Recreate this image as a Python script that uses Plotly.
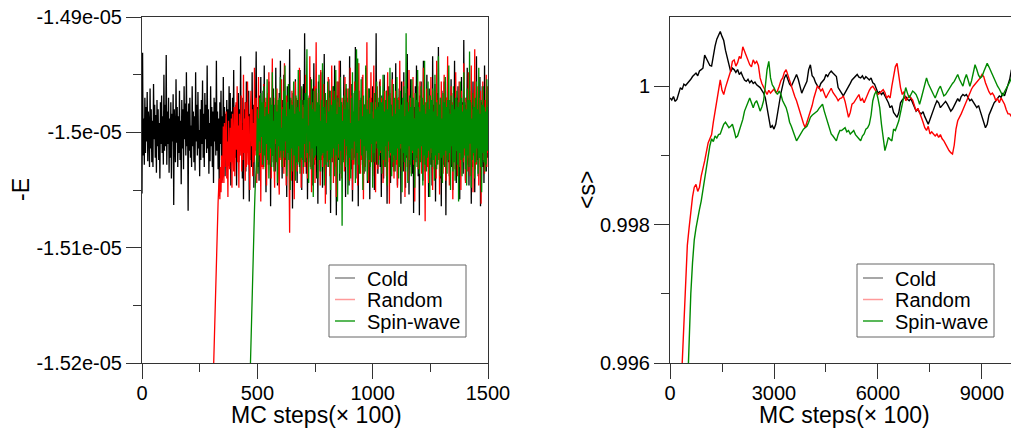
import plotly.graph_objects as go

# ---------------- Left panel: -E vs MC steps (x100) ----------------
# energies stored as offsets from -1.5e-05 in units of 1e-09
E_REF = -1.5e-05
E_UNIT = 1e-09

cold_start, cold_step = 0, 2.5
cold_dev = [
    -53, 69, -20, 12, -28, 30, -18, 22, -8, 35, -25, 18, 5, -30, 38, -14, 20, -26, 10, -30, 42, -6, 24, -22, 15, -35, 28, -12, 20, -24, 8, -40, 26, -10, 32, -18, 14, -28, 50, -16,
    24, -12, 67, -28, 18, -10, 30, -35, 12, -22, 26, -40, 16, -8, 33, -63, 20, 4, -26, 46, -9, 22, -30, 14, -18, 36, -24, 10, -45, 28, -14, 20, -32, 40, -6, 25, -20, 52, -12, 18,
    -68, 25, -16, 30, -22, 6, -30, 40, -12, 18, -26, 14, -33, 52, -8, 24, -20, 35, -14, 2, -38, 20, -24, 28, -10, 45, -22, 16, -30, 34, -6, 24, -18, 58, -14, 20, -36, 8, -25, 40,
    -12, 22, -30, 18, -44, 30, -8, 26, -20, 62, -16, 18, -32, 12, -55, 26, -10, 36, -24, 14, -28, 48, -18, 22, -38, 16, -6, 28, -30, 20, -24, 40, -12, 34, -46, 18, -20, 30, -14, 54,
    -30, 12, -22, 24, -46, 18, -8, 34, -26, 20, -12, 66, -20, 8, -40, 30, -58, 20, -14, 26, -34, 44, -10, 28, -18, 36, -60, 16, -24, 4, -30, 52, -22, 24, -48, 10, -16, 26, 70, -14,
    22, -30, 16, -42, 32, -20, 48, -24, 12, -18, 36, -30, 58, -16, 26, -52, 20, -22, 28, -28, 44, -10, 30, -64, 18, -26, 24, -20, 38, -30, 6, -34, 56, -12, 24, -46, 14, -28, 34, -20,
    62, -8, 18, -40, 28, -22, 50, -30, 10, -24, 22, -56, 40, -14, 30, -24, 72, -20, 16, -38, 26, -66, 34, -16, 12, -22, 46, -26, 20, -44, 28, -16, 36, -30, 54, -18, 24, -50, 28, -12,
    42, -26, 86, -18, 24, -36, 28, -58, 14, -22, 32, -20, 48, -28, 26, -46, 38, -18, 60, -28, 12, -24, 30, -40, 20, -62, 44, -16, 24, -34, 52, -16, 28, -48, 34, -22, 68, -12, 20, -54,
    28, -20, 36, -30, 46, -14, 36, -70, 22, -18, 26, -26, 40, -22, 58, -18, 24, -72, 32, -20, 44, -24, 18, -42, 62, -16, 26, -34, 16, -24, 50, -20, 28, -56, 38, -14, 30, -28, 20, -46,
    66, -12, 24, -32, 42, -60, 14, -22, 34, -22, 74, -18, 18, -40, 28, -64, 36, -16, 22, -28, 30, -20, 48, -26, 16, -36, 24, -30, 56, -14, 28, -44, 20, -24, 38, -58, 26, -18, 30, -22,
    40, -26, 20, -50, 34, -16, 86, -28, 22, -36, 26, -20, 44, -30, 18, -56, 32, -18, 24, -40, 50, -22, 28, -30, 36, -62, 20, -16, 40, -26, 30, -44, 24, -20, 52, -30, 18, -34, 28, -22,
    60, -18, 22, -46, 30, -24, 38, -28, 20, -62, 44, -16, 26, -34, 52, -20, 14, -48, 34, -22, 68, -18, 26, -54, 28, -24, 46, -30, 20, -36, 30, -70, 22, -18, 40, -26, 58, -22, 24, -38,
    26, -72, 32, -20, 44, -24, 28, -42, 62, -18, 26, -34, 20, -24, 50, -22, 16, -56, 38, -18, 30, -28, 20, -46, 66, -16, 24, -32, 42, -60, 22, -24, 34, -22, 74, -14, 24, -40, 28, -64,
    36, -20, 22, -28, 44, -30, 18, -72, 30, -22, 54, -26, 20, -38, 28, -16, 46, -30, 24, -50, 34, -18, 62, -24, 22, -44, 30, -20, 40, -34, 18, -58, 28, -24, 48, -20, 26, -36, 80, -18,
    24, -42, 30, -22, 56, -28, 20, -46, 36, -18, 28, -62, 24, -30, 44, -20, 34, -52, 22, -26, 66, -24, 18, -38, 30, -22, 48, -64, 26, -20, 40, -30, 20, -44, 58, -16, 28, -34, 24, -22,
    10,
]

random_start, random_step = 300, 2.5
random_dev = [
    -280, -262, -240, -218, -195, -170, -150, -132, -118, -100, -85, -70, -60, -48, -40, -58, -30, -52, -20, -44, -35, 5, -44, 8, -30, -12, 18, -40, -8, -56, 10, -22, -32, 4, -26, 12, -48, 16, -10, -34,
    22, -38, -4, 26, -15, 40, -26, 6, -48, 16, -20, -10, 32, -34, 2, -24, 50, -18, 12, -42, 26, -30, -6, 44, -28, 14, -22, -50, 18, 36, -12, 20, -38, 8, -26, 56, -20, 10, 30, -44,
    12, -26, 48, -20, -8, 18, -60, 24, -30, 4, -32, 42, -14, 26, -22, 30, -46, 10, 34, -22, 52, -28, -6, 18, -40, 20, 64, -16, 8, -24, -48, 30, -10, 22, 38, -28, 14, -36, -54, 28,
    4, -24, 46, -30, -12, 22, -36, 60, -8, 16, -46, 32, -18, 26, 20, -30, -87, 12, 28, -42, 36, -14, 26, -20, -58, 10, 44, -20, 30, -34, 16, -26, -6, 56, -26, 20, -48, 38, -10, 24,
    -36, 22, 8, -30, 50, -22, 14, -40, 30, -26, -12, 66, -30, 18, -52, 26, 6, -28, -18, 40, -44, 24, 78, -8, 22, -28, 34, -16, 10, -46, 54, -24, 20, -30, -6, 42, -34, 16, -62, 28,
    6, -26, -20, 48, -12, 30, -38, 14, -26, 58, -10, 22, -44, 36, 4, -30, 18, -56, 44, -14, 26, -22, 62, -28, -8, 14, -40, 30, -18, 24, 10, -34, 48, -26, -6, 24, -20, 38, -16, 12,
    -42, 56, -24, 8, 32, -50, 18, -28, -10, 44, -28, 22, -12, 36, -46, 14, 60, -20, 6, -36, 28, -24, -8, 50, -58, 16, 24, -30, 40, -14, 78, -22, 12, -44, 30, -26, -6, 52, -26, 18,
    -38, 8, 58, -16, 26, -52, 34, -10, 40, -32, 20, -24, -4, 46, -18, 30, -28, 12, -44, 30, -6, 36, -26, 18, -38, 8, 52, -16, 26, -62, 34, -20, 10, -30, 46, -22, 16, -40, 28, -12,
    36, -28, 22, -48, 14, 30, -20, 62, -14, 24, -34, 10, -26, 44, -18, 28, -56, 20, -10, 38, -30, 16, -42, 54, -24, 8, 30, -36, 22, -18, 48, -28, 12, -60, 34, -14, 26, -22, 40, -32,
    20, -26, 44, -12, 30, -36, 18, -20, 56, -28, 14, -77, 26, -16, 38, -30, 22, -44, 10, 32, -22, 48, -18, 24, -50, 16, -8, 36, -28, 20, -40, 62, -14, 28, -24, 12, -54, 30, -20, 44,
    -16, 22, -36, 14, 50, -26, 8, -42, 30, -20, 66, -18, 24, -46, 16, -28, 40, -10, 26, -58, 34, -22, 18, -32, 52, -16, 28, -38, 12, -24, 44, -30, 20, -50, 36, -12, 24, -26, 60, -20,
    14, -44, 30, -18, 26, -34, 52, -22, 18, -38, 8, 58, -26, 20, -52, 34, -14, 72, -32, 20, -28, 40, -12, 24, -46, 30, -18, 36, -62, 22, -10, 44, -24, 16, -36, 28, -20, 50, -30, 40,
    -18,
]

spin_start, spin_step = 465, 2.5
spin_dev = [
    -240, -218, -195, -175, -155, -136, -118, -100, -85, -68, -52, -40, -30, -18,
    20, -36, 12, -8, 30, -18, 34, -4, 26, -28, 8, 40, -20, 14, -32, 22, -10, 46, -24, 16, -40, 6, 30, -14, 24, -30, 52, -20, 10, -34, 24, -6, 38, -26, 18, -44, 28, -12, 30, -22,
    48, -16, 4, -30, 20, -16, 36, -22, 58, -8, 14, -38, 26, -18, 42, -24, 20, -50, 30, -14, 24, -34, 10, 44, -20, 16, -42, 32, -26, 22, -28, 54, -12, 18, -36, 28, -22, 40, -24, 12,
    -30, 28, -10, 34, -26, 14, 72, -18, 6, -44, 30, -8, 24, -32, 46, -14, 20, -56, 36, -22, 18, -20, 38, -12, 26, -40, 16, 50, -24, 10, -34, 28, -20, 60, -18, 22, -46, 14, 34, -28,
    8, -16, 44, -30, 18, -24, 36, -50, 24, 4, -22, 40, -14, 28, -38, 12, 54, -20, 16, -60, 30, -10, 22, -36, 48, -16, 26, -81, 10, -26, 32, -6, 20, -30, 42, -12, 26, -54, 14, 38,
    -22, 8, -40, 30, -14, 52, -24, 18, -8, 36, -44, 24, 72, -18, 64, -28, 10, -36, 28, -6, 46, -20, 14, -50, 32, -12, 24, -34, 58, -16, 20, -42, 8, 38, -24, 16, -30, 26, -10, 26,
    -48, 12, -18, 34, -26, 20, -8, 44, -14, 22, -28, 30, -20, 40, -16, 26, -36, 12, 50, -24, 18, -30, 28, -12, 36, -46, 20, -8, 32, -22, 56, -18, 24, -38, 14, -26, 42, -20, 30, -34,
    16, -24, 48, -14, 28, -40, 20, -30, 36, -10, 24, -52, 30, -18, 40, -26, 14, -34, 86, -20, 26, -44, 18, -12, 32, -28, 22, -38, 46, -16, 30, -24, 12, -48, 34, -20, 28, -30, 54, -14,
    22, -36, 18, -26, 40, -12, 30, -46, 24, -20, 62, -28, 16, -34, 26, -22, 44, -16, 20, -56, 32, -14, 28, -30, 38, -24, 18, -42, 50, -20, 26, -32, 14, -28, 66, -18, 24, -38, 30, -22,
    12, -44, 34, -20, 26, -30, 48, -16, 22, -36, 28, -24, 58, -18, 16, -50, 32, -12, 24, -34, 40, -26, 20, -42, 30, -16, 36, -28, 22, -60, 26, -18, 44, -24, 30, -38, 18, -22, 52, -14,
    26, -32, 20, -46, 38, -20, 28, -30, 70, -10, 26, -48, 12, -24, 34, -18, 22, -40, 30, -26, 44, -14, 20, -36, 56, -22, 16, -30, 28, -52, 24, -18, 40, -26, 22, -34, 18, -28, 46, -16,
    22,
]

# ---------------- Right panel: <s> vs MC steps (x100) ----------------
# magnetisation stored as offsets from 1 in units of 1e-05
S_REF = 1.0
S_UNIT = 1e-05

cold_s_start, cold_s_step = 0, 50
cold_s_dev = [
    -17, -20, -15, -22, -19, -12, -2, -5, 3, 1,
    4, 6, 10, 14, 17, 19, 15, 22, 24, 26,
    45, 40, 36, 30, 29, 45, 58, 68, 74, 79,
    72, 66, 52, 40, 30, 21, 26, 24, 20, 24,
    17, 20, 14, 9, 7, 10, 5, 8, 4, 6,
    2, 0, -2, -6, -10, -17, -30, -48, -60, -57,
    -62, -55, -36, -25, -10, 2, 12, 17, 8, 3,
    0, 6, 12, 17, 10, -2, -10, -4, 2, 7,
    24, 31, 15, 12, 5, 0, -3, 4, 7, 10,
    17, 14, 19, 22, 19, 17, 14, -2, -7, -10,
    -14, -10, -6, -2, 4, 9, 12, 15, 17, 13,
    12, 15, 10, 14, 12, 9, 12, 5, 3, -4,
    -10, -8, -12, -9, -14, -18, -24, -31, -28, -38,
    -42, -45, -38, -24, -20, -17, -15, -19, -21, -18,
    -24, -30, -36, -33, -38, -40, -37, -44, -50, -55,
    -48, -40, -32, -27, -21, -24, -31, -28, -26, -22,
    -26, -30, -36, -33, -28, -21, -18, -22, -15, -12,
    -14, -12, -16, -21, -19, -24, -27, -31, -28, -36,
    -44, -52, -60, -55, -42, -36, -30, -24, -21, -18,
    -14, -16, -10, -14, -6, 2, 10, 24,
]

random_s_start, random_s_step = 300, 50
random_s_dev = [
    -460, -405, -330, -275, -230, -205, -178, -160, -146, -142,
    -152, -146, -130, -121, -108, -95, -82, -76, -70, -52,
    -36, -18, -4, 9, -6, -12, -2, 6, 17, 22,
    36, 38, 29, 34, 43, 40, 57, 50, 45, 38,
    31, 28, 38, 33, 36, 30, 12, 4, -2, -8,
    -12, -6, -10, -7, -4, -9, -7, 0, 8, 12,
    20, 24, 16, 6, 0, -8, -15, -21, -30, -38,
    -45, -54, -60, -52, -45, -36, -28, -17, -8, 0,
    -2, -7, -4, -10, -17, -12, -7, -3, -9, -12,
    -16, -21, -18, -17, -14, -22, -33, -45, -38, -26,
    -24, -20, -17, -12, -21, -18, -24, -17, -12, -6,
    -2, 0, -4, -8, -12, -10, -7, -5, -9, -17,
    -14, -17, 0, 17, 28, 33, 12, -2, -12, -8,
    -21, -18, -14, -17, -20, -28, -36, -32, -40, -45,
    -52, -60, -64, -58, -69, -66, -69, -72, -69, -74,
    -70, -76, -79, -84, -90, -93, -96, -98, -85, -62,
    -50, -46, -40, -34, -28, -21, -14, -8, -4, 0,
    3, 5, 8, 12, 17, 14, 5, -2, -8, -12,
    -10, -14, -21, -18, -24, -17, -22, -26, -34, -40,
    -40, -44,
]

spin_s_start, spin_s_step = 450, 50
spin_s_dev = [
    -520, -440, -370, -300, -255, -222, -205, -188, -178, -166,
    -150, -133, -112, -95, -86, -76, -80, -72, -75, -70,
    -69, -62, -55, -52, -56, -60, -58, -55, -64, -74,
    -72, -64, -56, -48, -36, -30, -22, -17, -24, -31,
    -24, -21, -28, -36, -30, -21, 0, 24, 36, 12,
    2, -2, -8, -12, -7, -12, -21, -26, -31, -40,
    -52, -58, -64, -72, -79, -75, -69, -66, -62, -60,
    -58, -52, -45, -42, -40, -38, -36, -32, -28, -26,
    -36, -44, -52, -60, -69, -72, -76, -79, -70, -64,
    -64, -62, -60, -66, -64, -69, -66, -64, -70, -74,
    -76, -79, -72, -69, -62, -60, -55, -42, -21, -12,
    -7, -18, -31, -55, -79, -93, -84, -74, -77, -79,
    -62, -64, -57, -50, -38, -26, -14, -2, -10, -17,
    -12, -7, -9, -12, -18, -26, -17, -7, 3, 12,
    4, -2, -8, -12, -17, -10, -4, 0, -7, -14,
    -12, -8, -2, 0, 4, 7, 12, 17, 10, 4,
    0, 10, 17, 9, 0, 8, 20, 31, 24, 16,
    12, 14, 21, 26, 33, 28, 22, 17, 12, 6,
    0, -4, -10, -14, -8, -4, 0, 6, 12,
]

SERIES = ["Cold", "Random", "Spin-wave"]
LINE_COLORS = ["#000000", "#ff0000", "#008a00"]
LEGEND_COLORS = ["#8a8a8a", "#ff9a9a", "#22a022"]

E_TICKVALS = [-1.52e-05, -1.51e-05, -1.5e-05, -1.49e-05]
E_TICKTEXT = ["-1.52e-05", "-1.51e-05", "-1.5e-05", "-1.49e-05"]
E_MINOR = [-1.515e-05, -1.505e-05, -1.495e-05]
S_TICKVALS = [0.996, 0.998, 1.0]
S_TICKTEXT = ["0.996", "0.998", "1"]
S_MINOR = [0.997, 0.999]
X_LEFT_TICKS = [0, 500, 1000, 1500]
X_LEFT_MINOR = [250, 750, 1250]
X_RIGHT_TICKS = [0, 3000, 6000, 9000]
X_RIGHT_MINOR = [1500, 4500, 7500]
X_TITLE = "MC steps(× 100)"


def xs(start, step, n):
    return [start + i * step for i in range(n)]


left_sets = [
    (xs(cold_start, cold_step, len(cold_dev)), [E_REF + d * E_UNIT for d in cold_dev]),
    (xs(random_start, random_step, len(random_dev)), [E_REF + d * E_UNIT for d in random_dev]),
    (xs(spin_start, spin_step, len(spin_dev)), [E_REF + d * E_UNIT for d in spin_dev]),
]
right_sets = [
    (xs(cold_s_start, cold_s_step, len(cold_s_dev)), [S_REF + d * S_UNIT for d in cold_s_dev]),
    (xs(random_s_start, random_s_step, len(random_s_dev)), [S_REF + d * S_UNIT for d in random_s_dev]),
    (xs(spin_s_start, spin_s_step, len(spin_s_dev)), [S_REF + d * S_UNIT for d in spin_s_dev]),
]

W, H = 1011, 432
FONT = "Liberation Sans, Arial, Helvetica, sans-serif"


def px_x(p):
    return p / W


def px_y(p):
    return (H - p) / H


fig = go.Figure()
for name, col, (x, y) in zip(SERIES, LINE_COLORS, left_sets):
    fig.add_trace(go.Scatter(x=x, y=y, mode="lines", name=name, line=dict(color=col, width=1.3),
                             showlegend=False, xaxis="x", yaxis="y", hoverinfo="skip"))
for name, col, (x, y) in zip(SERIES, LINE_COLORS, right_sets):
    fig.add_trace(go.Scatter(x=x, y=y, mode="lines", name=name, line=dict(color=col, width=1.4),
                             showlegend=False, xaxis="x2", yaxis="y2", hoverinfo="skip"))

# legend boxes (drawn as shapes + text so row spacing matches the original)
shapes = []
annotations = []
LEGEND_BOXES = [(329, 265, 466, 337), (857, 264, 994, 337)]
LEGEND_ROWS = [278, 299.5, 321]
for (bx0, by0, bx1, by1) in LEGEND_BOXES:
    shapes.append(dict(type="rect", xref="paper", yref="paper",
                       x0=px_x(bx0), x1=px_x(bx1), y0=px_y(by1), y1=px_y(by0),
                       line=dict(color="#666666", width=1), fillcolor="white", layer="above"))
    for name, col, ry in zip(SERIES, LEGEND_COLORS, LEGEND_ROWS):
        shapes.append(dict(type="line", xref="paper", yref="paper",
                           x0=px_x(bx0 + 6), x1=px_x(bx0 + 26), y0=px_y(ry), y1=px_y(ry),
                           line=dict(color=col, width=1.5), layer="above"))
        annotations.append(dict(text=name, x=px_x(bx0 + 36), y=px_y(ry + 0.5),
                                xref="paper", yref="paper", showarrow=False,
                                xanchor="left", yanchor="middle",
                                font=dict(family=FONT, size=20, color="#000")))

annotations += [
    dict(text="-E", x=px_x(21), y=px_y(190), xref="paper", yref="paper",
         textangle=-90, showarrow=False, xanchor="center", yanchor="middle",
         font=dict(family=FONT, size=23, color="#000")),
    dict(text="&lt;s&gt;", x=px_x(587), y=px_y(190), xref="paper", yref="paper",
         textangle=-90, showarrow=False, xanchor="center", yanchor="middle",
         font=dict(family=FONT, size=23, color="#000")),
    dict(text=X_TITLE, x=px_x(316), y=px_y(415), xref="paper", yref="paper",
         showarrow=False, xanchor="center", yanchor="middle",
         font=dict(family=FONT, size=23, color="#000")),
    dict(text=X_TITLE, x=px_x(844), y=px_y(415), xref="paper", yref="paper",
         showarrow=False, xanchor="center", yanchor="middle",
         font=dict(family=FONT, size=23, color="#000")),
]

AX_COLOR = "#333333"
common_axis = dict(showline=True, linecolor=AX_COLOR, linewidth=1, ticks="outside",
                   ticklen=15, tickwidth=1, tickcolor=AX_COLOR, showgrid=False,
                   zeroline=False, automargin=False,
                   tickfont=dict(family=FONT, size=20, color="#000"))

fig.update_layout(
    template="none",
    width=W, height=H,
    margin=dict(l=0, r=0, t=0, b=0),
    paper_bgcolor="white", plot_bgcolor="white",
    font=dict(family=FONT, size=20, color="#000"),
    showlegend=False,
    xaxis=dict(domain=[px_x(142), px_x(488)], range=[0, 1500], anchor="y", mirror=True,
               tickmode="array", tickvals=X_LEFT_TICKS, ticklabelstandoff=-3,
               minor=dict(tickmode="array", tickvals=X_LEFT_MINOR, ticklen=8,
                          ticks="outside", tickcolor=AX_COLOR),
               **common_axis),
    yaxis=dict(domain=[px_y(363), px_y(17)], range=[-1.52e-05, -1.49e-05], anchor="x",
               mirror=True, tickmode="array", tickvals=E_TICKVALS, ticktext=E_TICKTEXT,
               minor=dict(tickmode="array", tickvals=E_MINOR, ticklen=8,
                          ticks="outside", tickcolor=AX_COLOR),
               **common_axis),
    xaxis2=dict(domain=[px_x(670), 1.0], range=[0, 9837], anchor="y2", mirror=True,
                tickmode="array", tickvals=X_RIGHT_TICKS, ticklabelstandoff=-3,
                minor=dict(tickmode="array", tickvals=X_RIGHT_MINOR, ticklen=8,
                           ticks="outside", tickcolor=AX_COLOR),
                **common_axis),
    yaxis2=dict(domain=[px_y(363), px_y(17)], range=[0.996, 1.001], anchor="x2",
                mirror=False, tickmode="array", tickvals=S_TICKVALS, ticktext=S_TICKTEXT,
                minor=dict(tickmode="array", tickvals=S_MINOR, ticklen=8,
                           ticks="outside", tickcolor=AX_COLOR),
                **common_axis),
    shapes=shapes,
    annotations=annotations,
)

fig.write_html("out.html")
